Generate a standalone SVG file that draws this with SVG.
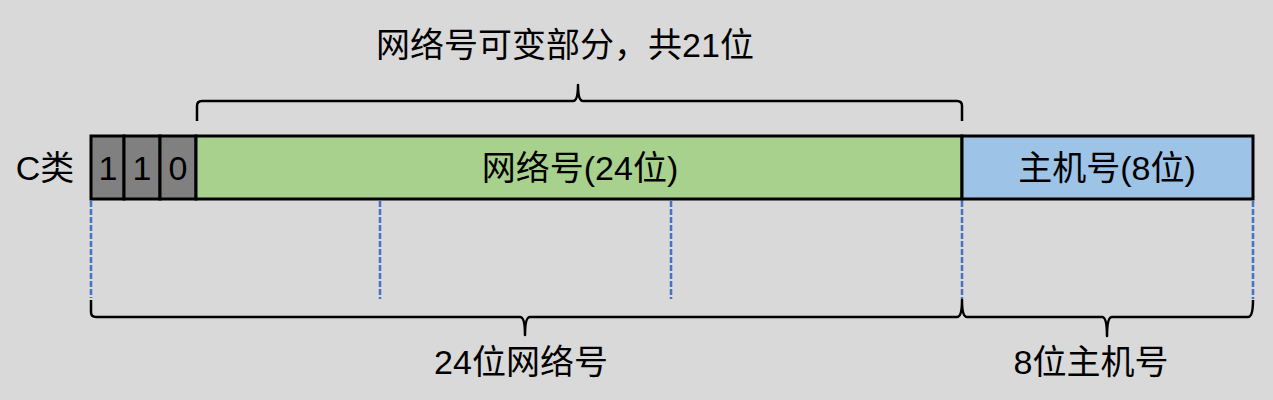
<svg xmlns="http://www.w3.org/2000/svg" width="1273" height="400" viewBox="0 0 1273 400">
<style>
text{font-family:"Liberation Sans","Noto Sans CJK SC",sans-serif;font-size:34px;fill:#000;text-anchor:middle}
.cell{stroke:#000;stroke-width:3}
.brace{fill:none;stroke:#000;stroke-width:2.5;stroke-linejoin:round}
.dash{stroke:#4472C4;stroke-width:2.5;stroke-dasharray:6,2}
</style>
<rect width="1273" height="400" fill="#D9D9D9"/>
<text x="45" y="180">C类</text>
<text x="565" y="57">网络号可变部分，共21位</text>
<g id="bit1"><rect class="cell" x="91" y="136" width="33" height="63" fill="#808080"/><text x="108" y="180">1</text></g>
<g id="bit2"><rect class="cell" x="124" y="136" width="36" height="63" fill="#808080"/><text x="142" y="180">1</text></g>
<g id="bit3"><rect class="cell" x="160" y="136" width="36" height="63" fill="#808080"/><text x="178" y="180">0</text></g>
<g id="net"><rect class="cell" x="196" y="136" width="766" height="63" fill="#A9D18E"/><text x="580" y="180">网络号(24位)</text></g>
<g id="host"><rect class="cell" x="962" y="136" width="291" height="63" fill="#9DC3E6"/><text x="1107" y="180">主机号(8位)</text></g>
<g id="connectors">
<line class="dash" x1="91" y1="201" x2="91" y2="298"/>
<line class="dash" x1="380" y1="201" x2="380" y2="299"/>
<line class="dash" x1="671" y1="201" x2="671" y2="299"/>
<line class="dash" x1="962" y1="201" x2="962" y2="299"/>
<line class="dash" x1="1253" y1="201" x2="1253" y2="299"/>
<path class="brace" d="M197,121 V106 Q197,101 202,101 H573 Q578,101 578,85 Q578,101 583,101 H957 Q962,101 962,106 V121"/>
<path class="brace" d="M91,300 V312 Q91,317 96,317 H520 Q525,317 525,335 Q525,317 530,317 H957 Q962,317 962,300 Q962,317 967,317 H1102 Q1107,317 1107,336 Q1107,317 1112,317 H1248 Q1253,317 1253,300"/>
</g>
<text x="521" y="374">24位网络号</text>
<text x="1091" y="374">8位主机号</text>
</svg>
